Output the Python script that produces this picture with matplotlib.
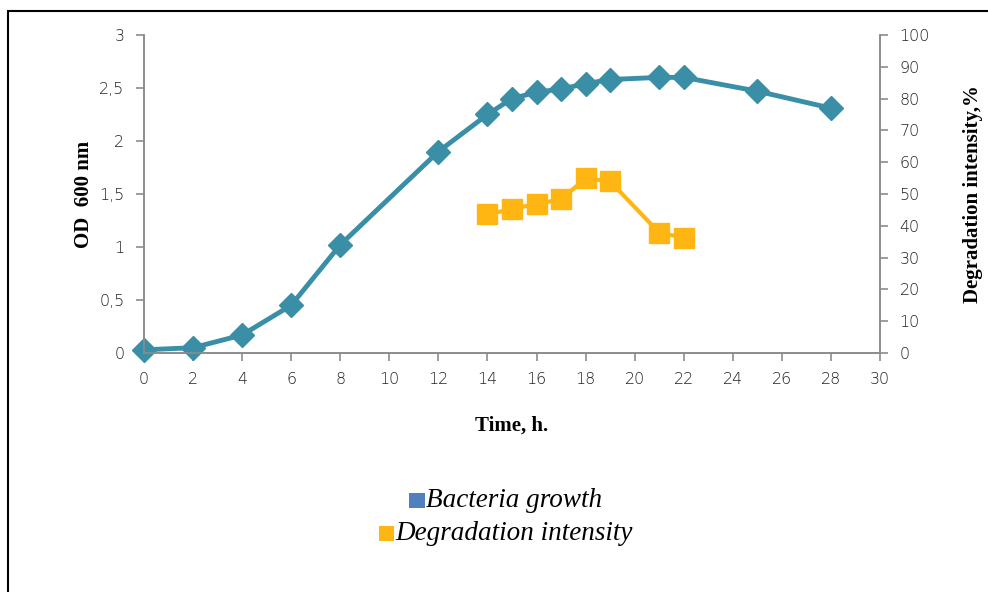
import matplotlib
matplotlib.use("Agg")
import matplotlib.pyplot as plt
from matplotlib.patches import Rectangle
from matplotlib.offsetbox import (AnchoredOffsetbox, DrawingArea, HPacker,
                                  TextArea, VPacker)

# bacteria growth, OD 600 nm
time_growth = [0, 2, 4, 6, 8, 12, 14, 15, 16, 17, 18, 19, 21, 22, 25, 28]
od600 = [0.03, 0.05, 0.17, 0.45, 1.02, 1.90, 2.25, 2.40, 2.46, 2.49, 2.54,
         2.58, 2.60, 2.60, 2.47, 2.31]

# degradation intensity, %
time_degr = [14, 15, 16, 17, 18, 19, 21, 22]
degradation = [43.6, 45.3, 46.9, 48.3, 54.9, 54.0, 37.8, 36.3]

x_ticks = list(range(0, 31, 2))
od_ticks = [0, 0.5, 1, 1.5, 2, 2.5, 3]
od_labels = ["0", "0,5", "1", "1,5", "2", "2,5", "3"]
pct_ticks = list(range(0, 101, 10))

TEAL, ORANGE, LEG_BLUE = "#3A8FA6", "#FFB612", "#4F81BD"
GRID = "#8C8C8C"
TICK_FONT = "DejaVu Sans"
SERIF = "Liberation Serif"

fig = plt.figure(figsize=(9.88, 5.92), dpi=100)
ax = fig.add_axes([0.1457, 0.4037, 0.7450, 0.5372])
ax2 = ax.twinx()

ax.plot(time_growth, od600, color=TEAL, lw=3.5, marker="D", ms=12.5,
        mfc=TEAL, mec=TEAL, zorder=3, clip_on=False)
ax2.plot(time_degr, degradation, color=ORANGE, lw=3, marker="s", ms=15,
         mfc=ORANGE, mec=ORANGE, zorder=3, clip_on=False)

ax.set_xlim(0, 30)
ax.set_ylim(0, 3)
ax2.set_ylim(0, 100)
ax.set_xticks(x_ticks)
ax.set_yticks(od_ticks)
ax.set_yticklabels(od_labels)
ax2.set_yticks(pct_ticks)

for a in (ax, ax2):
    a.spines["top"].set_visible(False)
    for side in ("left", "right", "bottom"):
        a.spines[side].set_color(GRID)
        a.spines[side].set_linewidth(1.2)
    a.tick_params(direction="out", length=6, width=1.2, color=GRID,
                  labelsize=11.5, labelcolor="#222222", pad=8)
    for lab in a.get_xticklabels() + a.get_yticklabels():
        lab.set_fontfamily(TICK_FONT)
        lab.set_fontweight("light")

ax.set_xlabel("Time, h.", fontfamily=SERIF, fontweight="bold", fontsize=15,
              labelpad=20)
ax.set_ylabel("OD  600 nm", fontfamily=SERIF, fontweight="bold", fontsize=15,
              labelpad=4)
ax2.set_ylabel("Degradation intensity,%", fontfamily=SERIF, fontweight="bold",
               fontsize=15, labelpad=24)

# legend, each entry centred on its own line
rows = []
for color, label in [(LEG_BLUE, "Bacteria growth"),
                     (ORANGE, "Degradation intensity")]:
    da = DrawingArea(11, 11, 0, 0)
    da.add_artist(Rectangle((0, -1), 11, 11, fc=color, ec="none"))
    txt = TextArea(label, textprops=dict(fontfamily=SERIF, style="italic",
                                         fontsize=19.5, color="black"))
    rows.append(HPacker(children=[da, txt], align="baseline", pad=0, sep=1))
leg = VPacker(children=rows, align="center", pad=0, sep=6)
box = AnchoredOffsetbox(loc="center", child=leg, frameon=False,
                        bbox_to_anchor=(0.512, 0.127),
                        bbox_transform=fig.transFigure, borderpad=0)
fig.add_artist(box)

# outer frame, cut at right and bottom edges
fig.add_artist(Rectangle((8 / 988, -0.02), 1.05, 1.02 - 11 / 592,
                         transform=fig.transFigure, fill=False,
                         ec="black", lw=1.5, clip_on=False))

fig.savefig("out.png", dpi=100)
